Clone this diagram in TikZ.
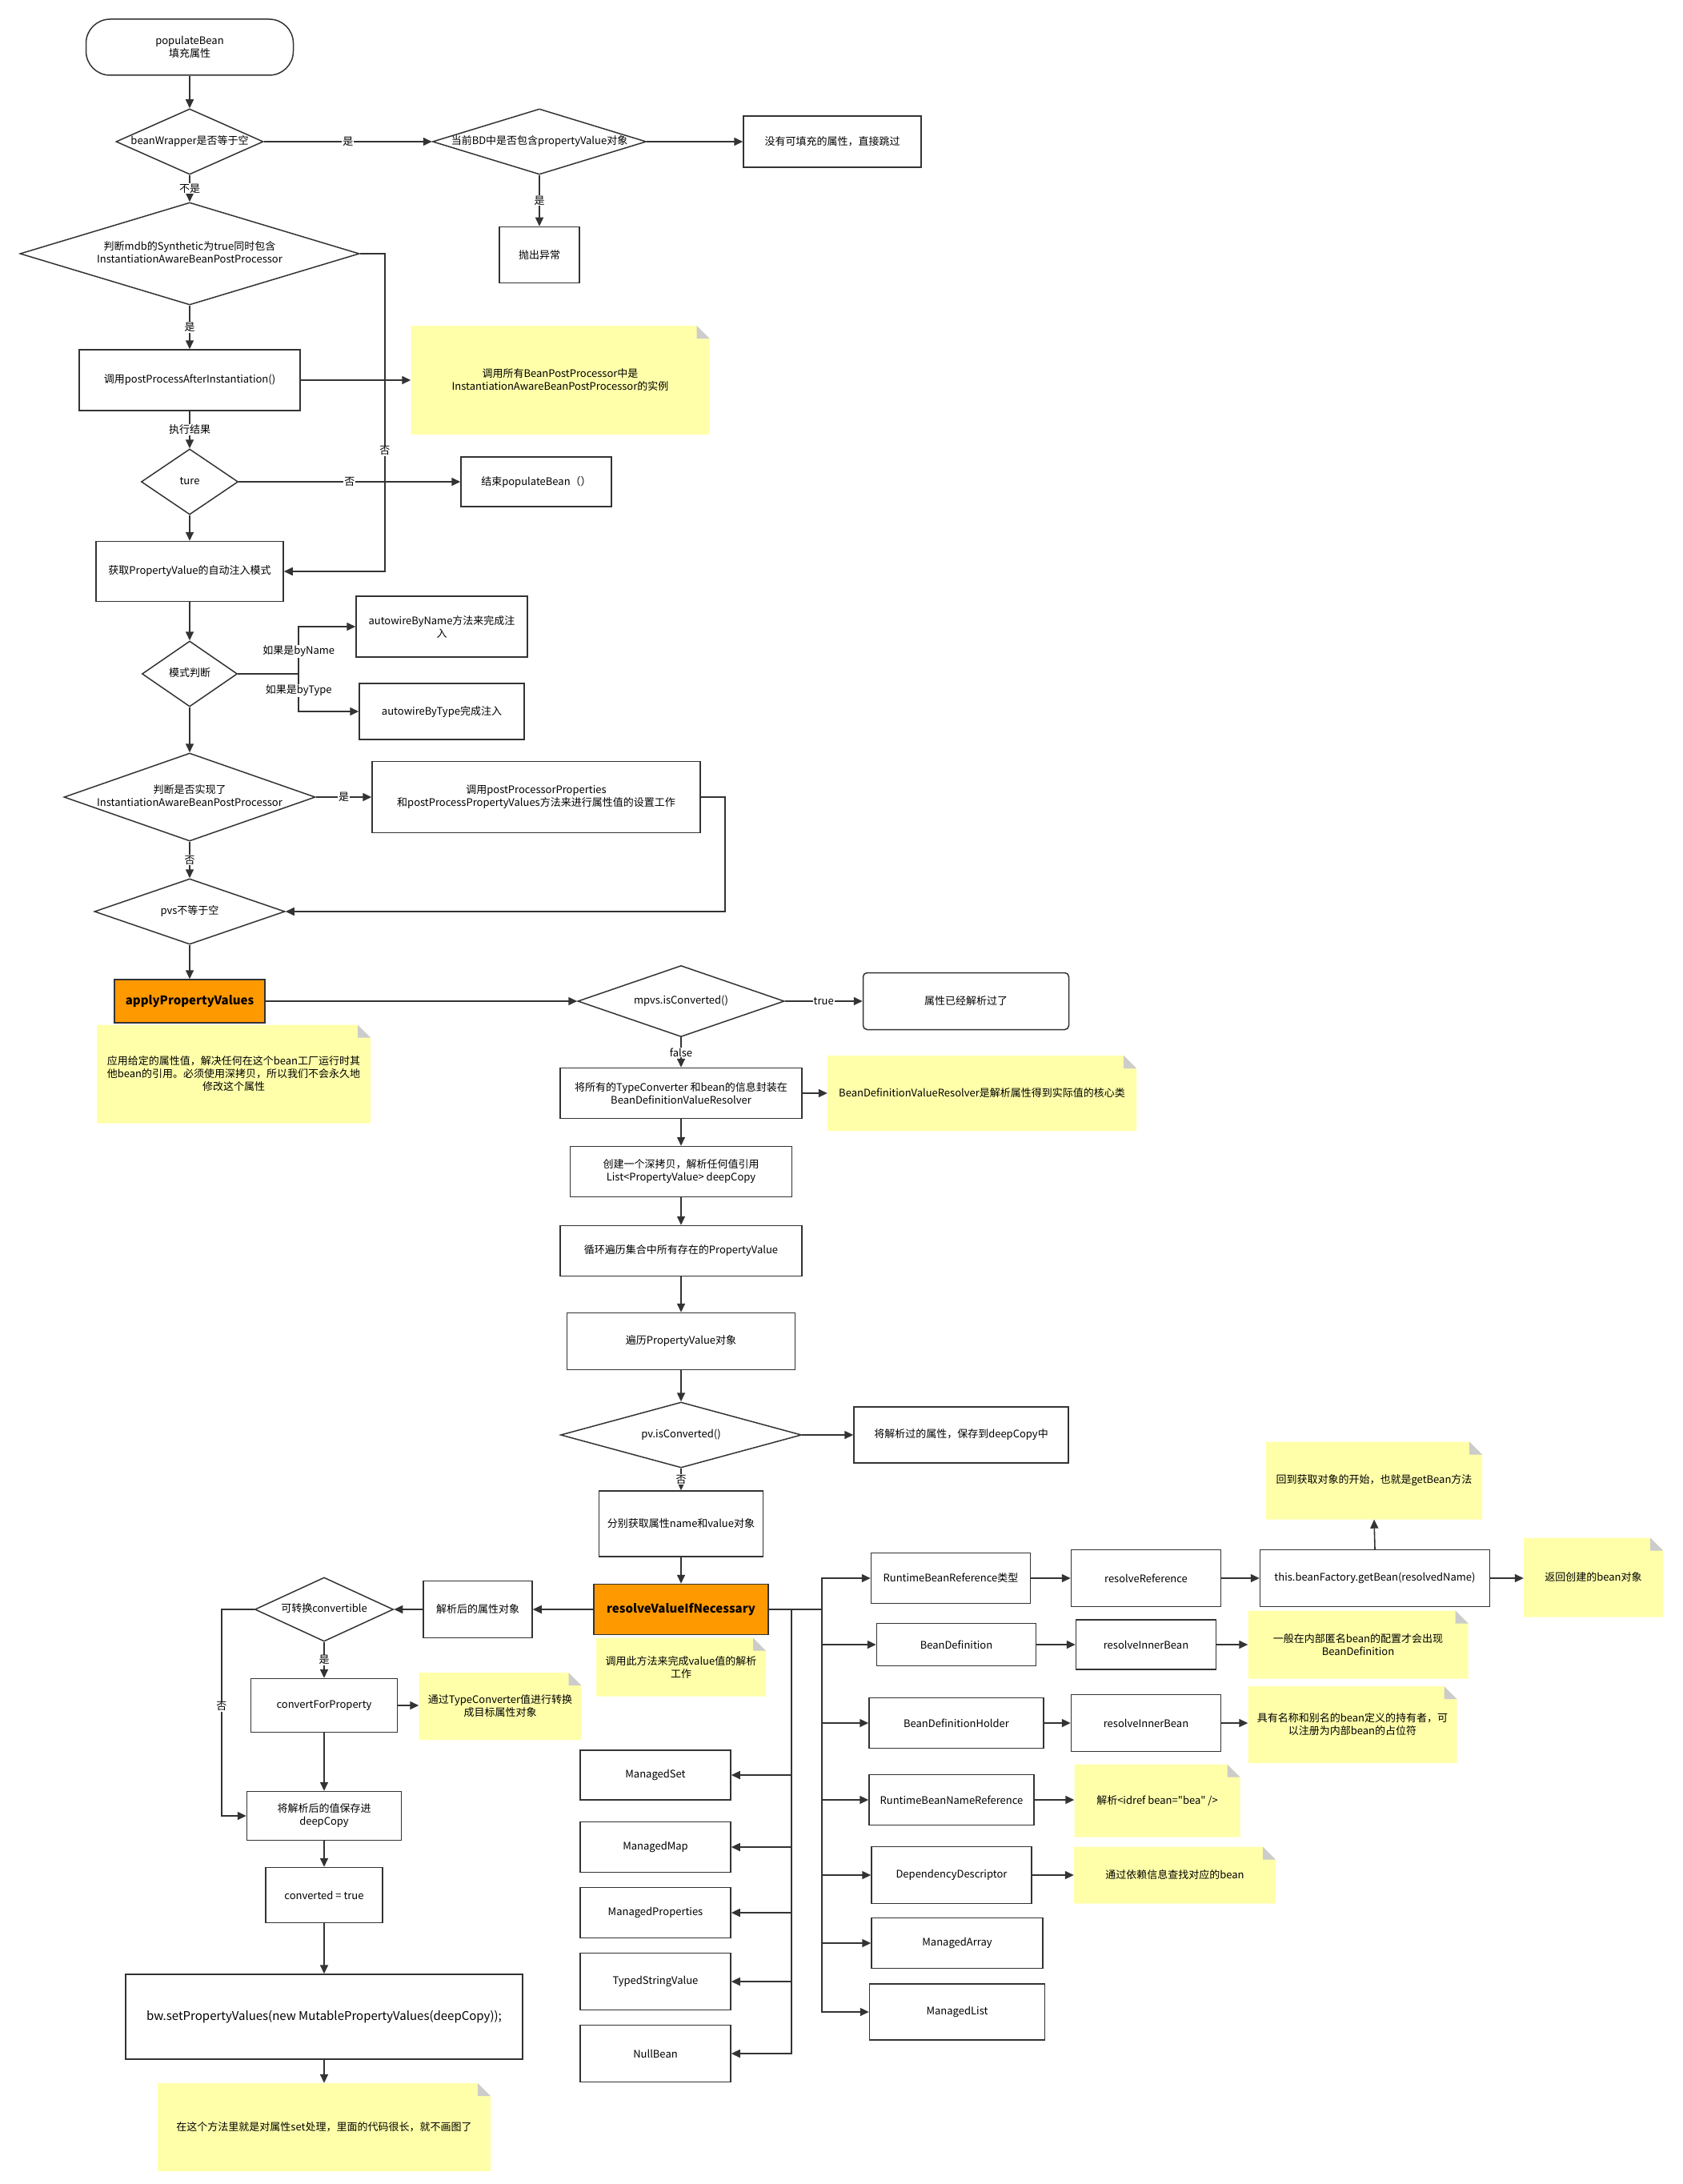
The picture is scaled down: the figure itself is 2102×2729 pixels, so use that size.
\documentclass[tikz,border=0pt]{standalone}
\usepackage{fontspec}
\setmainfont{Noto Sans CJK SC}
\newfontfamily\plainfont{Noto Sans CJK SC}
\usetikzlibrary{arrows.meta, positioning, shapes.geometric}

\definecolor{linegray}{HTML}{333333}
\definecolor{notefill}{HTML}{FFFFAA}
\definecolor{foldgray}{HTML}{CCCCCC}
\definecolor{orangefill}{HTML}{FF9900}
\newcommand\nodefont{\fontsize{13pt}{16pt}\selectfont}
\newcommand\zw[1]{\makebox[0pt]{\begin{tabular}{@{}c@{}}#1\end{tabular}}}

\begin{document}
\begin{tikzpicture}[
        x=1pt, y=-1pt,
        box/.style={rectangle, draw=linegray, line width=1.5pt, fill=white,
                    align=center, font=\nodefont, inner sep=2pt},
        obox/.style={box, fill=orangefill, font=\bfseries\fontsize{15pt}{18pt}\selectfont},
        dia/.style={diamond, draw=linegray, line width=1.5pt, fill=white,
                    inner sep=0pt, font=\nodefont},
        note/.style={rectangle, align=center, font=\nodefont, inner sep=4pt,
                    path picture={
                        \path (path picture bounding box.south west) coordinate (nsw)
                              (path picture bounding box.north east) coordinate (nne);
                        \fill[notefill] (nsw) |- ([xshift=-16pt]nne) -- ([yshift=-16pt]nne) |- (nsw) -- cycle;
                        \fill[foldgray] ([xshift=-16pt]nne) -- ([xshift=-16pt,yshift=-16pt]nne) -- ([yshift=-16pt]nne) -- cycle;
                    }},
        arrow/.style={-{Triangle[length=11pt, width=10pt]}, line width=1.6pt, draw=linegray},
        lbl/.style={fill=white, inner sep=1pt, font=\nodefont},
    ]
    \useasboundingbox (0,0) rectangle (2102,2729);

    % 开始：populateBean
    \node[box, rounded corners=30pt, minimum width=259pt, minimum height=70pt] (start) at (237,59) {populateBean\\填充属性};
    \node[dia, minimum width=184pt, minimum height=82pt] (bwnull) at (237,177) {\zw{beanWrapper是否等于空}};
    \node[dia, minimum width=267pt, minimum height=82pt] (bdpv) at (674,177) {\zw{当前BD中是否包含propertyValue对象}};
    \node[box, minimum width=222pt, minimum height=64pt] (skip) at (1040,177) {没有可填充的属性，直接跳过};
    \node[box, minimum width=100pt, minimum height=70pt, below=64pt of bdpv] (throw) {抛出异常};

    % Synthetic 判断
    \node[dia, minimum width=424pt, minimum height=128pt] (synth) at (237,317) {\zw{判断mdb的Synthetic为true同时包含\\InstantiationAwareBeanPostProcessor}};
    \node[box, minimum width=276pt, minimum height=76pt] (after) at (237,475) {调用postProcessAfterInstantiation()};
    \node[note, minimum width=373pt, minimum height=136pt] (noteA) at (700,475) {调用所有BeanPostProcessor中是\\InstantiationAwareBeanPostProcessor的实例};
    \node[dia, minimum width=121pt, minimum height=82pt] (ture) at (237,602) {\zw{ture}};
    \node[box, minimum width=188pt, minimum height=62pt] (endpb) at (670,602) {结束populateBean（）};

    % 自动注入模式
    \node[box, minimum width=234pt, minimum height=75pt] (mode) at (237,714) {获取PropertyValue的自动注入模式};
    \node[dia, minimum width=119pt, minimum height=82pt] (judge) at (237,842) {\zw{模式判断}};
    \node[box, minimum width=214pt, minimum height=76pt] (byname) at (552,783) {autowireByName方法来完成注\\入};
    \node[box, minimum width=206pt, minimum height=70pt] (bytype) at (552,889) {autowireByType完成注入};
    \node[dia, minimum width=314pt, minimum height=110pt] (iabpp) at (237,996) {\zw{判断是否实现了\\InstantiationAwareBeanPostProcessor}};
    \node[box, minimum width=410pt, minimum height=89pt] (ppp) at (670,996) {调用postProcessorProperties\\和postProcessPropertyValues方法来进行属性值的设置工作};
    \node[dia, minimum width=238pt, minimum height=82pt] (pvs) at (237,1139) {\zw{pvs不等于空}};

    % applyPropertyValues
    \node[obox, minimum width=188pt, minimum height=54pt] (apv) at (237,1251) {applyPropertyValues};
    \node[note, minimum width=342pt, minimum height=123pt] (noteB) at (292,1342) {应用给定的属性值，解决任何在这个bean工厂运行时其\\他bean的引用。必须使用深拷贝，所以我们不会永久地\\修改这个属性};
    \node[dia, minimum width=258pt, minimum height=89pt] (mpvs) at (851,1251) {\zw{mpvs.isConverted()}};
    \node[box, rounded corners=5pt, minimum width=257pt, minimum height=71pt] (resolved) at (1207,1251) {属性已经解析过了};
    \node[box, minimum width=302pt, minimum height=63pt] (wrap) at (851,1366) {将所有的TypeConverter 和bean的信息封装在\\BeanDefinitionValueResolver};
    \node[note, minimum width=386pt, minimum height=94pt] (noteC) at (1227,1366) {BeanDefinitionValueResolver是解析属性得到实际值的核心类};
    \node[box, minimum width=277pt, minimum height=63pt] (deep) at (851,1464) {创建一个深拷贝，解析任何值引用\\List<PropertyValue> deepCopy};
    \node[box, minimum width=302pt, minimum height=63pt] (loop) at (851,1563) {循环遍历集合中所有存在的PropertyValue};
    \node[box, minimum width=285pt, minimum height=71pt] (each) at (851,1676) {遍历PropertyValue对象};
    \node[dia, minimum width=301pt, minimum height=82pt] (pvconv) at (851,1793) {\zw{pv.isConverted()}};
    \node[box, minimum width=268pt, minimum height=70pt] (saved) at (1201,1793) {将解析过的属性，保存到deepCopy中};
    \node[box, minimum width=205pt, minimum height=82pt] (getnv) at (851,1904) {分别获取属性name和value对象};

    % resolveValueIfNecessary
    \node[obox, minimum width=218pt, minimum height=63pt] (resolve) at (851,2011) {resolveValueIfNecessary};
    \node[note, minimum width=212pt, minimum height=73pt] (noteD) at (851,2083) {调用此方法来完成value值的解析\\工作};

    % 右侧：各种值类型
    \node[box, minimum width=199pt, minimum height=63pt] (rbr) at (1188,1972) {RuntimeBeanReference类型};
    \node[box, minimum width=187pt, minimum height=71pt] (rref) at (1432,1972) {resolveReference};
    \node[box, minimum width=287pt, minimum height=71pt] (getbean) at (1718,1972) {this.beanFactory.getBean(resolvedName)};
    \node[note, minimum width=270pt, minimum height=97pt] (noteE) at (1717,1850) {回到获取对象的开始，也就是getBean方法};
    \node[note, minimum width=174pt, minimum height=99pt] (noteF) at (1991,1971) {返回创建的bean对象};
    \node[box, minimum width=199pt, minimum height=53pt] (bd) at (1195,2055) {BeanDefinition};
    \node[box, minimum width=175pt, minimum height=62pt] (rib1) at (1432,2055) {resolveInnerBean};
    \node[note, minimum width=275pt, minimum height=85pt] (noteG) at (1697,2055) {一般在内部匿名bean的配置才会出现\\BeanDefinition};
    \node[box, minimum width=218pt, minimum height=63pt] (bdh) at (1195,2153) {BeanDefinitionHolder};
    \node[box, minimum width=187pt, minimum height=71pt] (rib2) at (1432,2153) {resolveInnerBean};
    \node[note, minimum width=261pt, minimum height=96pt] (noteH) at (1690,2155) {具有名称和别名的bean定义的持有者，可\\以注册为内部bean的占位符};
    \node[box, minimum width=206pt, minimum height=63pt] (rbnr) at (1189,2249) {RuntimeBeanNameReference};
    \node[note, minimum width=207pt, minimum height=91pt] (noteI) at (1446,2250) {解析{\plainfont <idref bean="bea" />}};
    \node[box, minimum width=200pt, minimum height=71pt] (dd) at (1189,2343) {DependencyDescriptor};
    \node[note, minimum width=252pt, minimum height=71pt] (noteJ) at (1468,2343) {通过依赖信息查找对应的bean};
    \node[box, minimum width=214pt, minimum height=63pt] (marr) at (1196,2428) {ManagedArray};
    \node[box, minimum width=219pt, minimum height=70pt] (mlist) at (1196,2514) {ManagedList};

    % 中间：集合类型
    \node[box, minimum width=188pt, minimum height=62pt] (mset) at (819,2218) {ManagedSet};
    \node[box, minimum width=188pt, minimum height=63pt] (mmap) at (819,2308) {ManagedMap};
    \node[box, minimum width=188pt, minimum height=63pt] (mprop) at (819,2390) {ManagedProperties};
    \node[box, minimum width=188pt, minimum height=71pt] (tsv) at (819,2476) {TypedStringValue};
    \node[box, minimum width=188pt, minimum height=71pt] (nullb) at (819,2566) {NullBean};

    % 左侧：类型转换
    \node[box, minimum width=136pt, minimum height=71pt] (parsed) at (597,2011) {解析后的属性对象};
    \node[dia, minimum width=173pt, minimum height=80pt] (conv) at (405,2011) {\zw{可转换convertible}};
    \node[box, minimum width=183pt, minimum height=67pt] (cfp) at (405,2131) {convertForProperty};
    \node[note, minimum width=203pt, minimum height=84pt] (noteK) at (625,2132) {通过TypeConverter值进行转换\\成目标属性对象};
    \node[box, minimum width=193pt, minimum height=61pt] (savedc) at (405,2269) {将解析后的值保存进\\deepCopy};
    \node[box, minimum width=146pt, minimum height=69pt] (convtrue) at (405,2368) {converted = true};
    \node[box, minimum width=496pt, minimum height=106pt, font=\fontsize{15pt}{18pt}\selectfont] (setpv) at (405,2520) {bw.setPropertyValues(new MutablePropertyValues(deepCopy));};
    \node[note, minimum width=416pt, minimum height=110pt] (noteL) at (405,2658) {在这个方法里就是对属性set处理，里面的代码很长，就不画图了};

    % 连线：populateBean 部分
    \draw[arrow] (start.south) -- (bwnull.north);
    \draw[arrow] (bwnull.east) -- node[lbl] {是} (bdpv.west);
    \draw[arrow] (bdpv.east) -- (skip.west);
    \draw[arrow] (bdpv.south) -- node[lbl] {是} (throw.north);
    \draw[arrow] (bwnull.south) -- node[lbl] {不是} (synth.north);
    \draw[arrow] (synth.east) -- ++(31,0) |- node[lbl, pos=0.31] {否} (mode.east);
    \draw[arrow] (synth.south) -- node[lbl] {是} (after.north);
    \draw[arrow] (after.east) -- (after.east -| noteA.west);
    \draw[arrow] (after.south) -- node[lbl] {执行结果} (ture.north);
    \draw[arrow] (ture.east) -- node[lbl] {否} (endpb.west);
    \draw[arrow] (ture.south) -- (mode.north);
    \draw[arrow] (mode.south) -- (judge.north);
    \draw[arrow] (judge.east) -- ++(76,0) |- node[lbl, pos=0.24] {如果是byName} (byname.west);
    \draw[arrow] (judge.east) -- ++(76,0) |- node[lbl, pos=0.22] {如果是byType} (bytype.west);
    \draw[arrow] (judge.south) -- (iabpp.north);
    \draw[arrow] (iabpp.east) -- node[lbl] {是} (ppp.west);
    \draw[arrow] (iabpp.south) -- node[lbl] {否} (pvs.north);
    \draw[arrow] (ppp.east) -- ++(30,0) |- (pvs.east);
    \draw[arrow] (pvs.south) -- (apv.north);

    % 连线：applyPropertyValues 部分
    \draw[arrow] (apv.east) -- (mpvs.west);
    \draw[arrow] (mpvs.east) -- node[lbl] {true} (resolved.west);
    \draw[arrow] (mpvs.south) -- node[lbl] {false} (wrap.north);
    \draw[arrow] (wrap.east) -- (wrap.east -| noteC.west);
    \draw[arrow] (wrap.south) -- (deep.north);
    \draw[arrow] (deep.south) -- (loop.north);
    \draw[arrow] (loop.south) -- (each.north);
    \draw[arrow] (each.south) -- (pvconv.north);
    \draw[arrow] (pvconv.east) -- (saved.west);
    \draw[arrow] (pvconv.south) -- node[lbl] {否} (getnv.north);
    \draw[arrow] (getnv.south) -- (resolve.north);

    % 连线：resolveValueIfNecessary 分支
    \coordinate (rbus) at (1027,2011);
    \coordinate (lbus) at (989,2011);
    \foreach \t in {rbr, bd, bdh, rbnr, dd, marr, mlist}
        \draw[arrow] (resolve.east) -- (rbus) |- (\t.west);
    \foreach \t in {mset, mmap, mprop, tsv, nullb}
        \draw[arrow] (lbus) |- (\t.east);
    \draw[arrow] (rbr.east) -- (rbr.east -| rref.west);
    \draw[arrow] (rref.east) -- (getbean.west);
    \draw[arrow] (getbean.north) -- (noteE.south);
    \draw[arrow] (getbean.east) -- (getbean.east -| noteF.west);
    \draw[arrow] (bd.east) -- (bd.east -| rib1.west);
    \draw[arrow] (rib1.east) -- (rib1.east -| noteG.west);
    \draw[arrow] (bdh.east) -- (bdh.east -| rib2.west);
    \draw[arrow] (rib2.east) -- (rib2.east -| noteH.west);
    \draw[arrow] (rbnr.east) -- (rbnr.east -| noteI.west);
    \draw[arrow] (dd.east) -- (dd.east -| noteJ.west);

    % 连线：类型转换
    \draw[arrow] (resolve.west) -- (parsed.east);
    \draw[arrow] (parsed.west) -- (conv.east);
    \draw[arrow] (conv.south) -- node[lbl] {是} (cfp.north);
    \draw[arrow] (conv.west) -- ++(-41,0) |- node[lbl, pos=0.235] {否} (savedc.west);
    \draw[arrow] (cfp.east) -- (cfp.east -| noteK.west);
    \draw[arrow] (cfp.south) -- (savedc.north);
    \draw[arrow] (savedc.south) -- (convtrue.north);
    \draw[arrow] (convtrue.south) -- (setpv.north);
    \draw[arrow] (setpv.south) -- (noteL.north);

\end{tikzpicture}
\end{document}
